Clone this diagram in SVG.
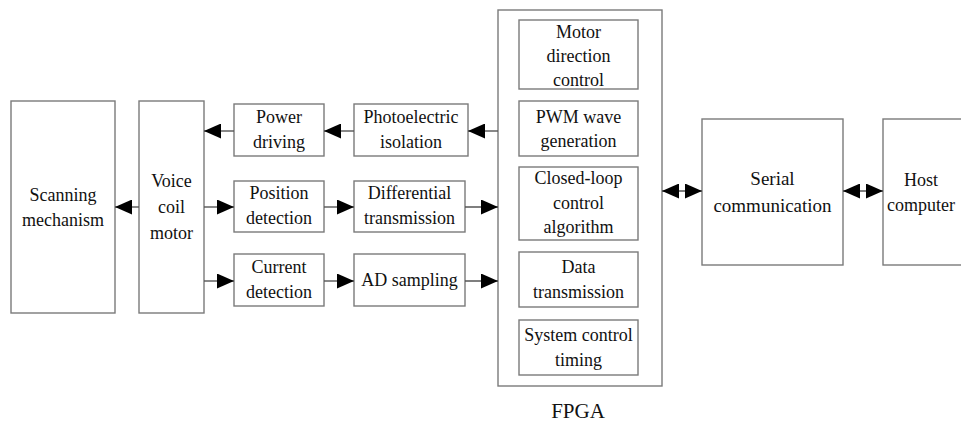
<svg xmlns="http://www.w3.org/2000/svg" width="961" height="427" viewBox="0 0 961 427">
<defs>
<style>
.box{fill:#fff;stroke:#7a7a7a;stroke-width:1.4}
.ln{fill:none;stroke:#555;stroke-width:1.4}
.t text{font-size:18px;fill:#111;text-anchor:middle}
.t .big{font-size:19px}
.t .lbl{font-size:21px}
</style>
<marker id="ah" markerUnits="userSpaceOnUse" markerWidth="17" markerHeight="15" refX="17" refY="7.5" orient="auto-start-reverse" viewBox="0 0 17 15">
<path d="M0,0 L17,7.5 L0,15 z" fill="#000"/>
</marker>
</defs>
<rect width="961" height="427" fill="#fff"/>
<g class="t" font-family="Liberation Serif, Times New Roman, DejaVu Serif, serif">
<g id="scanning"><rect class="box" x="11" y="101" width="104" height="212"/><text x="63" y="201">Scanning</text><text x="63" y="226">mechanism</text></g>
<g id="vcm"><rect class="box" x="139" y="101" width="65" height="212"/><text x="171.5" y="187">Voice</text><text x="171.5" y="213">coil</text><text x="171.5" y="239">motor</text></g>
<g id="power"><rect class="box" x="234" y="104" width="90" height="52"/><text x="279" y="123">Power</text><text x="279" y="148">driving</text></g>
<g id="photo"><rect class="box" x="354" y="104" width="114" height="52"/><text x="411" y="123">Photoelectric</text><text x="411" y="148">isolation</text></g>
<g id="position"><rect class="box" x="234" y="181" width="90" height="51"/><text x="279" y="199">Position</text><text x="279" y="224">detection</text></g>
<g id="diff"><rect class="box" x="354" y="181" width="111" height="51"/><text x="409.5" y="199">Differential</text><text x="409.5" y="224">transmission</text></g>
<g id="current"><rect class="box" x="234" y="254" width="90" height="52"/><text x="279" y="273">Current</text><text x="279" y="298">detection</text></g>
<g id="ad"><rect class="box" x="354" y="254" width="111" height="52"/><text x="409.5" y="286">AD sampling</text></g>
<g id="fpga"><rect class="box" x="498" y="10" width="164" height="376"/><text class="lbl" x="578" y="418">FPGA</text></g>
<g id="motor"><rect class="box" x="519" y="20" width="119" height="69"/><text x="578.5" y="38">Motor</text><text x="578.5" y="62">direction</text><text x="578.5" y="86">control</text></g>
<g id="pwm"><rect class="box" x="519" y="101" width="119" height="55"/><text x="578.5" y="123">PWM wave</text><text x="578.5" y="147">generation</text></g>
<g id="closed"><rect class="box" x="519" y="167" width="119" height="73"/><text x="578.5" y="184">Closed-loop</text><text x="578.5" y="209">control</text><text x="578.5" y="233">algorithm</text></g>
<g id="data"><rect class="box" x="519" y="252" width="119" height="55"/><text x="578.5" y="273">Data</text><text x="578.5" y="298">transmission</text></g>
<g id="system"><rect class="box" x="519" y="320" width="119" height="55"/><text x="578.5" y="341">System control</text><text x="578.5" y="366">timing</text></g>
<g id="serial"><rect class="box" x="702" y="119" width="141" height="146"/><text class="big" x="772.5" y="185">Serial</text><text class="big" x="772.5" y="212">communication</text></g>
<g id="host"><rect class="box" x="883" y="119" width="90" height="146"/><text x="921" y="186">Host</text><text x="921" y="211">computer</text></g>
</g>
<g id="connectors">
<line class="ln" x1="139" y1="207" x2="115" y2="207" marker-end="url(#ah)"/>
<line class="ln" x1="234" y1="131" x2="204" y2="131" marker-end="url(#ah)"/>
<line class="ln" x1="354" y1="131" x2="324" y2="131" marker-end="url(#ah)"/>
<line class="ln" x1="498" y1="131" x2="468" y2="131" marker-end="url(#ah)"/>
<line class="ln" x1="204" y1="207" x2="234" y2="207" marker-end="url(#ah)"/>
<line class="ln" x1="324" y1="207" x2="354" y2="207" marker-end="url(#ah)"/>
<line class="ln" x1="465" y1="207" x2="498" y2="207" marker-end="url(#ah)"/>
<line class="ln" x1="204" y1="281" x2="234" y2="281" marker-end="url(#ah)"/>
<line class="ln" x1="324" y1="281" x2="354" y2="281" marker-end="url(#ah)"/>
<line class="ln" x1="465" y1="281" x2="498" y2="281" marker-end="url(#ah)"/>
<line class="ln" x1="662" y1="191" x2="702" y2="191" marker-start="url(#ah)" marker-end="url(#ah)"/>
<line class="ln" x1="843" y1="191" x2="883" y2="191" marker-start="url(#ah)" marker-end="url(#ah)"/>
</g>
</svg>
